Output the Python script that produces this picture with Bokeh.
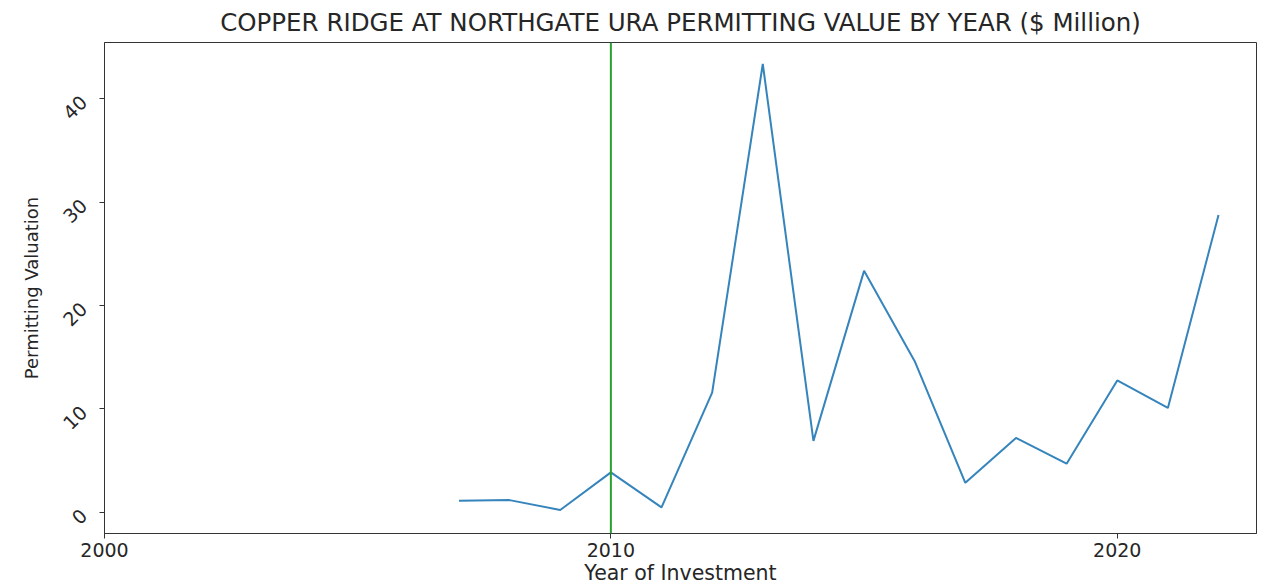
import math
from bokeh.plotting import figure
from bokeh.models import Range1d, Span, FixedTicker
from bokeh.embed import file_html
from bokeh.resources import INLINE

years = [2007, 2008, 2009, 2010, 2011, 2012, 2013, 2014, 2015, 2016, 2017, 2018, 2019, 2020, 2021, 2022]
values = [1.13, 1.18, 0.23, 3.86, 0.48, 11.57, 43.37, 6.91, 23.36, 14.62, 2.85, 7.2, 4.7, 12.76, 10.1, 28.76]
x_ticks = [2000, 2010, 2020]
y_ticks = [0, 10, 20, 30, 40]
marker_year = 2010

FONT = "DejaVu Sans"
TXT = "#262626"

p = figure(width=1258, height=588, output_backend="svg", toolbar_location=None,
           x_range=Range1d(2000, 2022.75), y_range=Range1d(-2.05, 45.45),
           min_border_left=104, min_border_right=2, min_border_top=40, min_border_bottom=55)

p.title.text = "COPPER RIDGE AT NORTHGATE URA PERMITTING VALUE BY YEAR ($ Million)"
p.title.align = "center"
p.title.text_font = FONT
p.title.text_font_size = "24.5px"
p.title.text_font_style = "normal"
p.title.text_color = TXT
p.title.standoff = 11

p.line(years, values, line_color="#1f77b4", line_width=2, line_alpha=0.9)
p.add_layout(Span(location=marker_year, dimension="height", line_color="#2ca02c", line_width=2))

p.xgrid.visible = False
p.ygrid.visible = False
p.outline_line_color = "#333333"
p.outline_line_width = 1
p.background_fill_color = "white"
p.border_fill_color = "white"

for ax in (p.xaxis[0], p.yaxis[0]):
    ax.axis_line_color = "#333333"
    ax.major_tick_line_color = "#333333"
    ax.major_tick_out = 5
    ax.major_tick_in = 0
    ax.minor_tick_line_color = None
    ax.major_label_text_font = FONT
    ax.major_label_text_font_size = "19px"
    ax.major_label_text_color = TXT
    ax.axis_label_text_font = FONT
    ax.axis_label_text_font_style = "normal"
    ax.axis_label_text_color = TXT

p.xaxis.axis_label_text_font_size = "20.5px"
p.yaxis.axis_label_text_font_size = "18px"
p.xaxis.ticker = FixedTicker(ticks=x_ticks)
p.yaxis.ticker = FixedTicker(ticks=y_ticks)
p.xaxis.axis_label = "Year of Investment"
p.yaxis.axis_label = "Permitting Valuation"
p.xaxis.major_label_standoff = 4
p.xaxis.axis_label_standoff = 1
p.yaxis.major_label_orientation = math.pi / 4
p.yaxis.major_label_standoff = 16
p.yaxis.axis_label_standoff = 12

open("out.html", "w").write(file_html(p, INLINE))
